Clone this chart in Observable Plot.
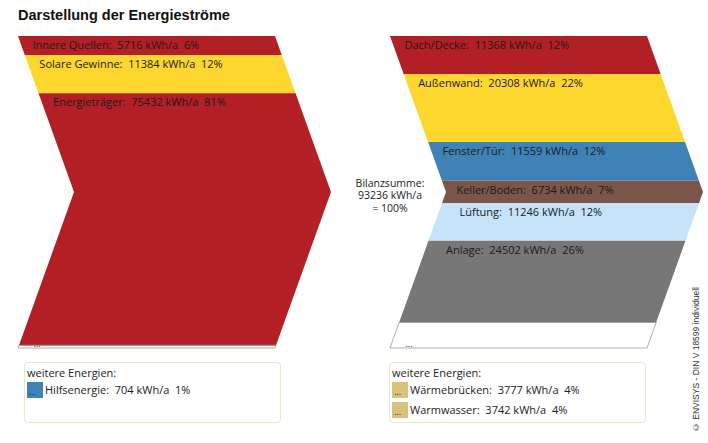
<!DOCTYPE html>
<html>
<head>
<meta charset="utf-8">
<script src="https://cdn.jsdelivr.net/npm/d3@7"></script>
<script src="https://cdn.jsdelivr.net/npm/@observablehq/plot@0.6"></script>
<style>
  html, body { margin: 0; padding: 0; background: #fff; }
  #wrap { position: relative; width: 708px; height: 443px; overflow: hidden; font-family: "Open Sans", sans-serif; color: #1b1b1b; }
  #title { position: absolute; left: 18px; top: 7px; font: bold 14.5px "Liberation Sans", Arial, sans-serif; line-height: 16px; color: #111; }
  #chart { position: absolute; left: 0; top: 0; }
  .box { position: absolute; top: 362px; width: 255px; height: 59px; border: 1px solid #e4e9c6; border-radius: 4px; font-size: 11px; }
  .box .head { position: absolute; left: 2px; top: 2px; line-height: 16px; }
  .item { position: absolute; left: 2px; height: 16px; line-height: 16px; white-space: pre; }
  .sw { display: inline-block; width: 16px; height: 16px; vertical-align: top; margin-right: 2px; position: relative; overflow: hidden; }
  .sw i { position: absolute; left: 2px; top: 5px; font-style: normal; font-size: 9px; line-height: 10px; color: #1b1b1b; }
  #copy { position: absolute; left: 691px; top: 287px; writing-mode: vertical-rl; transform: rotate(180deg); font: 8.5px "Liberation Sans", Arial, sans-serif; color: #333; white-space: nowrap; }
</style>
</head>
<body>
<div id="wrap">
  <div id="chart"></div>
  <div id="title"></div>
  <div id="copy">© ENVISYS - DIN V 18599 individuell</div>
</div>
<script>
// ---- data ----
const titleText = "Darstellung der Energieströme";
const totalValue = 93236;
const totalPct = 100;
const sourceLabels = ["Innere Quellen", "Solare Gewinne", "Energieträger"];
const sourceValues = [5716, 11384, 75432];
const sourcePcts = [6, 12, 81];
const extraSourceLabels = ["Hilfsenergie"];
const extraSourceValues = [704];
const extraSourcePcts = [1];
const sinkLabels = ["Dach/Decke", "Außenwand", "Fenster/Tür", "Keller/Boden", "Lüftung", "Anlage"];
const sinkValues = [11368, 20308, 11559, 6734, 11246, 24502];
const sinkPcts = [12, 22, 12, 7, 12, 26];
const extraSinkLabels = ["Wärmebrücken", "Warmwasser"];
const extraSinkValues = [3777, 3742];
const extraSinkPcts = [4, 4];

// ---- styles / layout ----
const bandColors = {
  "Innere Quellen": "#b22025", "Solare Gewinne": "#fdd62e", "Energieträger": "#b22025",
  "Dach/Decke": "#b22025", "Außenwand": "#fdd62e", "Fenster/Tür": "#3f82b6",
  "Keller/Boden": "#7a5548", "Lüftung": "#c6e3fa", "Anlage": "#777777"
};
const extraSourceColor = "#3f82b6";
const extraSinkColor = "#d9c27b";
const shapeW = 257, depth = 56, leftX0 = 18, rightX0 = 390;
const mid = totalValue / 2;
const edge = (x0, v) => x0 + depth * (1 - Math.abs(v - mid) / mid);

document.getElementById("title").textContent = titleText;

function makeBands(side, x0, labels, values, pcts) {
  let acc = 0;
  const out = labels.map((name, i) => {
    const b = {key: side + name, name, value: values[i], pct: pcts[i], top: acc, bottom: acc + values[i], x0, rest: false};
    acc += values[i];
    return b;
  });
  out.push({key: side + "rest", name: "rest", top: acc, bottom: totalValue, x0, rest: true});
  return out;
}
const bands = [
  ...makeBands("L", leftX0, sourceLabels, sourceValues, sourcePcts),
  ...makeBands("R", rightX0, sinkLabels, sinkValues, sinkPcts)
];
const pts = bands.flatMap(b => {
  const vs = [b.top];
  if (b.top < mid && b.bottom > mid) vs.push(mid);
  vs.push(b.bottom);
  return vs.map(v => ({key: b.key, name: b.name, rest: b.rest, v, x1: edge(b.x0, v), x2: edge(b.x0, v) + shapeW}));
});
const fmt = (name, value, pct) => `${name}:\u00a0 ${value} kWh/a\u00a0 ${pct}%`;
const labelled = bands.filter(b => !b.rest);
const restBands = bands.filter(b => b.rest);
const balanceLines = ["Bilanzsumme:", `${totalValue} kWh/a`, `= ${totalPct}%`];
const balanceX = (edge(leftX0, mid) + shapeW + edge(rightX0, mid)) / 2 + 1;

const chart = Plot.plot({
  width: 708, height: 443, margin: 0,
  x: {domain: [0, 708], range: [0, 708], axis: null},
  y: {domain: [0, totalValue], range: [36, 348], axis: null},
  color: {domain: Object.keys(bandColors), range: Object.values(bandColors)},
  style: {fontFamily: "'Open Sans', sans-serif", background: "transparent"},
  marks: [
    Plot.areaX(pts.filter(d => !d.rest), {y: "v", x1: "x1", x2: "x2", z: "key", fill: "name", curve: "linear"}),
    Plot.areaX(pts.filter(d => d.rest), {y: "v", x1: "x1", x2: "x2", z: "key", fill: "#fff", stroke: "#9b9b9b", strokeWidth: 0.8, curve: "linear"}),
    Plot.text(labelled, {
      x: b => edge(b.x0, b.top) + (b.top >= mid ? 17 : 14), y: "top",
      text: b => fmt(b.name, b.value, b.pct),
      textAnchor: "start", dy: 9, fontSize: 11, fill: "#1b1b1b"
    }),
    Plot.text(restBands, {
      x: b => edge(b.x0, b.bottom) + 15, y: "bottom", text: () => "...",
      textAnchor: "start", dy: -4, fontSize: 9, fill: "#222"
    }),
    ...balanceLines.map((line, i) => Plot.text([line], {
      x: () => balanceX, y: () => mid,
      text: d => d, dy: -9 + i * 12.5, textAnchor: "middle", fontSize: 10.5, fill: "#1b1b1b"
    }))
  ]
});
document.getElementById("chart").appendChild(chart);

function makeBox(left, labels, values, pcts, color) {
  const box = document.createElement("div");
  box.className = "box";
  box.style.left = left + "px";
  const head = document.createElement("div");
  head.className = "head";
  head.textContent = "weitere Energien:";
  box.appendChild(head);
  labels.forEach((name, i) => {
    const it = document.createElement("div");
    it.className = "item";
    it.style.top = (19 + i * 20) + "px";
    const sw = document.createElement("span");
    sw.className = "sw";
    sw.style.background = color;
    const dots = document.createElement("i");
    dots.textContent = "...";
    sw.appendChild(dots);
    it.appendChild(sw);
    it.appendChild(document.createTextNode(fmt(name, values[i], pcts[i])));
    box.appendChild(it);
  });
  document.getElementById("wrap").appendChild(box);
}
makeBox(24, extraSourceLabels, extraSourceValues, extraSourcePcts, extraSourceColor);
makeBox(389, extraSinkLabels, extraSinkValues, extraSinkPcts, extraSinkColor);
</script>
</body>
</html>
